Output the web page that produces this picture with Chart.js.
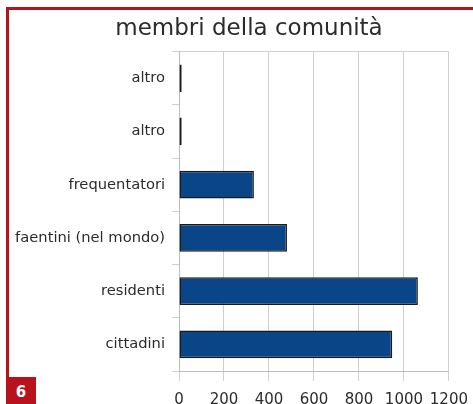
<!DOCTYPE html>
<html>
<head>
<meta charset="utf-8">
<script src="https://cdn.jsdelivr.net/npm/chart.js@4"></script>
<style>
    body { margin: 0; background: #fff; }
    #page { position: relative; width: 473px; height: 404px; overflow: hidden; font-family: "DejaVu Sans", sans-serif; }
    #wrap { position: absolute; left: 0; top: 12px; width: 473px; height: 392px; }
    #frameTop { position: absolute; left: 6px; top: 7px; width: 467px; height: 3px; background: #b8121f; }
    #frameLeft { position: absolute; left: 6px; top: 7px; width: 2.5px; height: 372px; background: #b8121f; }
    #badge { position: absolute; left: 6px; top: 377px; width: 30px; height: 27px; background: #b8121f; color: #fff;
             font-weight: bold; font-size: 15px; text-align: center; line-height: 30px; }
</style>
</head>
<body>
<div id="page">
    <div id="wrap"><canvas id="membriChart"></canvas></div>
    <div id="frameTop"></div>
    <div id="frameLeft"></div>
    <div id="badge">6</div>
</div>
<script>
// membri della comunità
const categories = ["altro", "altro", "frequentatori", "faentini (nel mondo)", "residenti", "cittadini"];
const membri = [12, 12, 333, 480, 1062, 948];
const xTicks = [0, 200, 400, 600, 800, 1000, 1200];

const ctx = document.getElementById("membriChart").getContext("2d");

// the long category labels run past the left padding, so let them draw there
const widenLabels = {
    id: "widenLabels",
    afterLayout(chart){
        chart.scales.y.left = 0;
    }
};

const membriChart = new Chart(ctx, {
    type: "bar",
    data: {
        labels: categories,
        datasets: [{
            label: "membri",
            data: membri,
            backgroundColor: "#0a4587",
            borderColor: "#1a1a1a",
            borderWidth: 1.5,
            borderSkipped: false,
            categoryPercentage: 1,
            barPercentage: 0.52
        }]
    },
    plugins: [widenLabels],
    options: {
        indexAxis: "y",
        responsive: true,
        maintainAspectRatio: false,
        animation: false,
        layout: {
            padding: { top: 0, right: 24, bottom: 0, left: 49 }
        },
        plugins: {
            legend: { display: false },
            tooltip: { enabled: false },
            title: {
                display: true,
                text: "membri della comunità",
                color: "#2b2b2b",
                font: { family: "DejaVu Sans", size: 23, weight: "normal" },
                padding: { top: 3, bottom: 9 }
            }
        },
        scales: {
            x: {
                min: 0,
                max: 1200,
                afterBuildTicks: function(scale){
                    scale.ticks = xTicks.map(v => ({ value: v }));
                },
                afterFit: function(scale){
                    scale.height = 33;
                },
                ticks: {
                    color: "#2b2b2b",
                    padding: 5,
                    font: { family: "DejaVu Sans", size: 15, lineHeight: 1.85 },
                    callback: function(value){
                        return String(value);
                    }
                },
                grid: {
                    color: "#cfcfcf",
                    tickColor: "#cfcfcf",
                    tickLength: 10
                },
                border: { display: true, color: "#bdbdbd" }
            },
            y: {
                afterFit: function(scale){
                    scale.width = 130;
                },
                ticks: {
                    color: "#2b2b2b",
                    padding: 7,
                    font: { family: "DejaVu Sans", size: 14.7 }
                },
                grid: {
                    offset: true,
                    color: function(c){
                        return (c.index === 0 || c.index === categories.length) ? "#cfcfcf" : "rgba(0,0,0,0)";
                    },
                    tickColor: "#cfcfcf",
                    tickLength: 7
                },
                border: { display: true, color: "#bdbdbd" }
            }
        }
    }
});
</script>
</body>
</html>
